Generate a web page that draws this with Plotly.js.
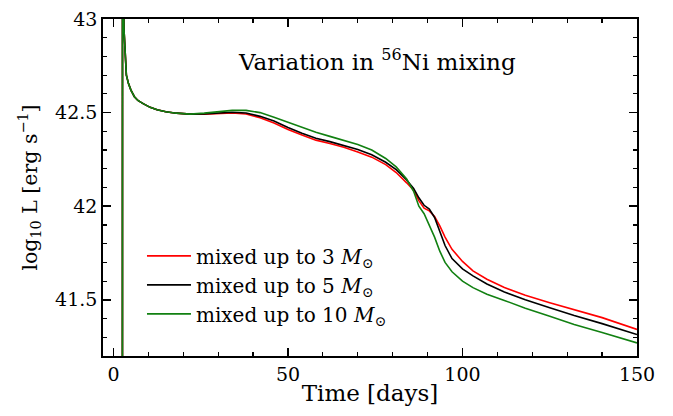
<!DOCTYPE html>
<html>
<head>
<meta charset="utf-8">
<script src="https://cdn.plot.ly/plotly-3.0.1.min.js"></script>
<style>
html,body{margin:0;padding:0;background:#fff;}
#chart{width:673px;height:416px;}
</style>
</head>
<body>
<div id="chart"></div>
<script>
// Time grid (days)
const time = [2.55, 2.6, 2.8, 3.0, 3.3, 3.7, 4.3, 5, 6, 7, 8.5, 10.5, 12.5, 15, 18, 22, 26, 30, 34, 38, 42, 46, 50, 54, 58, 62, 66, 70, 74, 78, 81, 84, 86, 87.5, 89, 90.5, 92, 93.5, 95, 97, 100, 103, 107, 112, 118, 125, 132, 140, 150];

// log10 L for each mixing case
const mix3 = [39, 45, 43.3, 42.95, 42.8, 42.7, 42.655, 42.62, 42.585, 42.565, 42.548, 42.528, 42.515, 42.505, 42.497, 42.492, 42.492, 42.495, 42.498, 42.493, 42.472, 42.445, 42.41, 42.38, 42.353, 42.335, 42.315, 42.29, 42.262, 42.222, 42.18, 42.125, 42.085, 42.03, 41.99, 41.975, 41.945, 41.895, 41.835, 41.77, 41.705, 41.655, 41.61, 41.566, 41.525, 41.485, 41.448, 41.405, 41.342];
const mix5 = [39, 45, 43.3, 42.95, 42.8, 42.7, 42.655, 42.62, 42.585, 42.565, 42.548, 42.528, 42.515, 42.505, 42.497, 42.492, 42.493, 42.498, 42.502, 42.498, 42.48, 42.455, 42.42, 42.39, 42.363, 42.345, 42.325, 42.303, 42.275, 42.235, 42.195, 42.14, 42.095, 42.045, 42.005, 41.985, 41.94, 41.865, 41.79, 41.72, 41.665, 41.628, 41.585, 41.542, 41.5, 41.458, 41.416, 41.373, 41.315];
const mix10 = [39, 45, 43.3, 42.95, 42.8, 42.7, 42.655, 42.62, 42.585, 42.565, 42.548, 42.528, 42.515, 42.505, 42.497, 42.492, 42.497, 42.505, 42.512, 42.512, 42.5, 42.475, 42.447, 42.42, 42.395, 42.373, 42.352, 42.33, 42.3, 42.255, 42.21, 42.145, 42.08, 42.0, 41.96, 41.9, 41.835, 41.76, 41.7, 41.65, 41.6, 41.565, 41.53, 41.497, 41.455, 41.412, 41.368, 41.325, 41.27];

const names = ["mixed up to 3 <i>M</i><sub>⊙</sub>", "mixed up to 5 <i>M</i><sub>⊙</sub>", "mixed up to 10 <i>M</i><sub>⊙</sub>"];
const colors = ["#ff0000", "#000000", "#118011"];
const series = [mix3, mix5, mix10];

const FONT = "DejaVu Serif, Liberation Serif, serif";

const traces = series.map((s, i) => ({
  x: time, y: s, type: "scatter", mode: "lines",
  name: names[i], line: {color: colors[i], width: 1.6}
}));

const axisCommon = {
  showline: true, linecolor: "#000", linewidth: 1.8, mirror: "allticks",
  ticks: "inside", ticklen: 8, tickwidth: 1.5, tickcolor: "#000",
  showgrid: false, zeroline: false,
  tickfont: {family: FONT, size: 19, color: "#000"},
  minor: {ticks: "inside", ticklen: 4, tickwidth: 1.2, tickcolor: "#000"}
};

const layout = {
  width: 673, height: 416,
  margin: {l: 103, r: 36, t: 19, b: 59.5},
  paper_bgcolor: "#fff", plot_bgcolor: "#fff",
  showlegend: true,
  legend: {
    x: 0.073, y: 0.355, xanchor: "left", yanchor: "top",
    bgcolor: "rgba(0,0,0,0)", borderwidth: 0,
    font: {family: FONT, size: 20, color: "#000"},
    itemwidth: 44,
    tracegroupgap: 0
  },
  xaxis: Object.assign({}, axisCommon, {
    range: [-3, 150], tickvals: [0, 50, 100, 150],
    minor: Object.assign({}, axisCommon.minor, {dtick: 10, tick0: 0}),
    title: {text: "Time [days]", font: {family: FONT, size: 23, color: "#000"}, standoff: 1}
  }),
  yaxis: Object.assign({}, axisCommon, {
    range: [41.2, 43], tickvals: [41.5, 42, 42.5, 43], ticktext: ["41.5", "42", "42.5", "43"],
    minor: Object.assign({}, axisCommon.minor, {dtick: 0.1, tick0: 41.2}),
    title: {text: "log<sub>10</sub> L [erg s<sup>−1</sup>]", font: {family: FONT, size: 20.5, color: "#000"}, standoff: 12}
  }),
  annotations: [{
    xref: "paper", yref: "paper", x: 0.513, y: 0.878, xanchor: "center", yanchor: "middle",
    text: "Variation in <sup>56</sup>Ni mixing", showarrow: false,
    font: {family: FONT, size: 23, color: "#000"}
  }]
};

Plotly.newPlot("chart", traces, layout, {displayModeBar: false, staticPlot: true});
</script>
</body>
</html>
